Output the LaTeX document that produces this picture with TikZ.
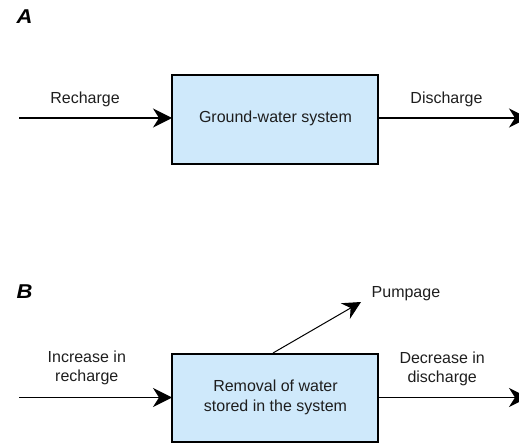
\documentclass[tikz,border=0pt]{standalone}
\usepackage{fontspec}
\setmainfont{Liberation Sans}
\newfontfamily\panelfont[FakeStretch=1.1]{Liberation Sans}
\usetikzlibrary{arrows.meta}
\definecolor{boxblue}{RGB}{207,233,251}
\definecolor{txt}{RGB}{30,30,30}
\begin{document}
\begin{tikzpicture}[x=1pt,y=-1pt,
  sysbox/.style={draw=black,line width=1.5pt,fill=boxblue},
  flow/.style={line width=1.5pt,-{Stealth[length=19pt,width=19pt,inset=6pt]}},
  thinflow/.style={line width=1pt,-{Stealth[length=18pt,width=18pt,inset=6pt]}},
  lbl/.style={text=txt,font=\fontsize{16}{19}\selectfont,anchor=base,inner sep=0pt},
  panel/.style={text=black,font=\panelfont\fontsize{20}{23}\selectfont\bfseries\itshape,anchor=base west,inner sep=0pt}]
\useasboundingbox (0,0) rectangle (519,443);
% Panel A
\node[panel] (pa) at (16.5,24) {A};
\draw[sysbox] (172,75) rectangle (378,164);
\coordinate (awest) at (172,118);
\coordinate (aeast) at (378,118);
\coordinate (ain) at (19,118);
\coordinate (aout) at (528,118);
\draw[flow] (ain) -- (awest);
\draw[flow] (aeast) -- (aout);
\node[lbl] (asys) at (275.5,122.5) {Ground-water system};
\node[lbl] (arech) at (85,104) {Recharge};
\node[lbl] (adis) at (446.5,104) {Discharge};
% Panel B
\node[panel] (pb) at (16.5,299) {B};
\draw[sysbox] (172,354) rectangle (378,442);
\coordinate (bwest) at (172,397.5);
\coordinate (beast) at (378,397.5);
\coordinate (bin) at (19,397.5);
\coordinate (bout) at (528,397.5);
\coordinate (btop) at (273,353);
\coordinate (bpump) at (361,302);
\draw[flow] (bin) -- (bwest);
\draw[flow] (beast) -- (bout);
\draw[thinflow] (btop) -- (bpump);
\node[lbl] (bsys1) at (275.5,391.5) {Removal of water};
\node[lbl] (bsys2) at (275.5,411) {stored in the system};
\node[lbl] (binc1) at (86.8,362.7) {Increase in};
\node[lbl] (binc2) at (86.8,381.7) {recharge};
\node[lbl] (bdec1) at (442.2,363.5) {Decrease in};
\node[lbl] (bdec2) at (442.2,382.5) {discharge};
\node[lbl,anchor=base west] (bpumpl) at (371.5,298) {Pumpage};
\end{tikzpicture}
\end{document}
